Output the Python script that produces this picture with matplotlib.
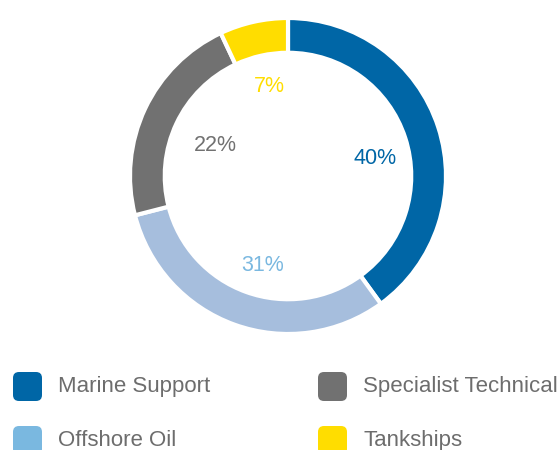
import matplotlib.pyplot as plt
from matplotlib.patches import FancyBboxPatch

segments = ["Marine Support", "Offshore Oil", "Specialist Technical", "Tankships"]
shares = [40, 31, 22, 7]
ring_colors = ["#0066a6", "#a6bedd", "#717171", "#ffdd00"]
text_colors = ["#0066a6", "#7ab8e0", "#717171", "#ffdd00"]
# small nudges for the percentage labels, in pixels (right, down)
label_nudge = [(3, 10), (5, 6), (7, 7), (1, -3)]

# legend layout: two columns, filled row by row
legend_order = ["Marine Support", "Specialist Technical", "Offshore Oil", "Tankships"]
legend_colors = {"Marine Support": "#0066a6", "Specialist Technical": "#717171",
                 "Offshore Oil": "#7ab8e0", "Tankships": "#ffdd00"}

W, H = 560, 450
fig = plt.figure(figsize=(W / 100, H / 100), dpi=100)

cx, cy, R = 288, 176, 158
ax = fig.add_axes([(cx - R) / W, (H - cy - R) / H, 2 * R / W, 2 * R / H])
wedges, texts, pcts = ax.pie(
    shares, colors=ring_colors, startangle=90, counterclock=False,
    radius=1, autopct="%d%%", pctdistance=0.56,
    wedgeprops=dict(width=0.22, edgecolor="white", linewidth=3),
    textprops=dict(fontsize=15.5, family="Liberation Sans"))
for t, c, (dx, dy) in zip(pcts, text_colors, label_nudge):
    t.set_color(c)
    x, y = t.get_position()
    t.set_position((x + dx / R, y - dy / R))
for w in wedges:
    w.set_clip_on(False)
ax.set_xlim(-1, 1)
ax.set_ylim(-1, 1)

lg = fig.add_axes([0, 0, 1, 1])
lg.set_xlim(0, W)
lg.set_ylim(H, 0)
lg.axis("off")
col_x = [13, 318]
row_y = [372, 426]
for i, name in enumerate(legend_order):
    x = col_x[i % 2]
    y = row_y[i // 2]
    lg.add_patch(FancyBboxPatch((x, y), 29, 29,
                                boxstyle="round,pad=0,rounding_size=6",
                                fc=legend_colors[name], ec="none"))
    lg.text(x + 45, y + 14.5, name, fontsize=16, color="#6d6d6d",
            va="center", ha="left", family="Liberation Sans")

fig.savefig("out.png", dpi=100)
